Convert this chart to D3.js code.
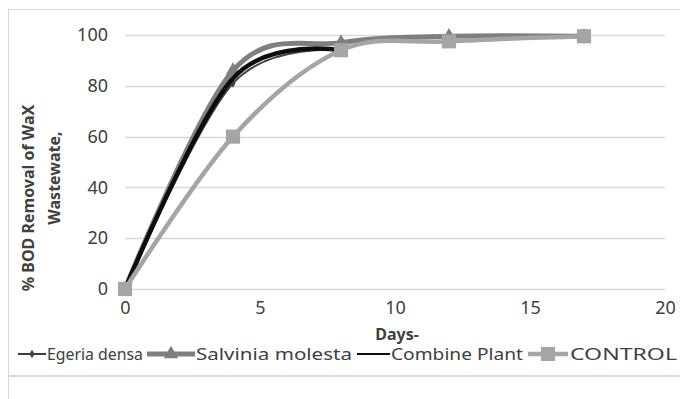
<!DOCTYPE html>
<html>
<head>
<meta charset="utf-8">
<script src="https://cdn.jsdelivr.net/npm/d3@7"></script>
<style>
  body { margin: 0; background: #fff; }
  svg { display: block; }
  text { font-family: "Noto Sans", "Open Sans", sans-serif; fill: #404040; }
</style>
</head>
<body>
<script>
// chart values
const days        = [0, 4, 8, 12, 17];
const egeria      = [0, 81, 94];
const salvinia    = [0, 86, 97, 99.5, 99.5];
const combine     = [0, 83, 94];
const control     = [0, 60, 94, 97.5, 99.5];
const xTicks      = [0, 5, 10, 15, 20];
const yTicks      = [0, 20, 40, 60, 80, 100];
const seriesNames = ["Egeria densa", "Salvinia molesta", "Combine Plant", "CONTROL"];

const width = 680, height = 399;
const margin = { top: 35, right: 15, bottom: 110, left: 125 };

let svg = d3.select("body")
            .append("svg")
              .attr("width", width)
              .attr("height", height);

// chart frame (and the top of the next one below)
svg.append("rect")
    .attr("x", 8.5).attr("y", 9.5)
    .attr("width", width + 10).attr("height", 366)
    .attr("fill", "none").attr("stroke", "#d9d9d9");
svg.append("rect")
    .attr("x", 8.5).attr("y", 376.5)
    .attr("width", width + 10).attr("height", 40)
    .attr("fill", "none").attr("stroke", "#d9d9d9");

let xScale = d3.scaleLinear()
                .domain([0, 20])
                .range([margin.left, width - margin.right]);   // 125 .. 665

let yScale = d3.scaleLinear()
                .domain([0, 100])
                .range([289, margin.top]);

// gridlines
svg.append("g")
    .selectAll("line")
    .data(yTicks)
    .enter()
    .append("line")
      .attr("x1", xScale(0)).attr("x2", xScale(20))
      .attr("y1", d => Math.round(yScale(d)) + 0.5)
      .attr("y2", d => Math.round(yScale(d)) + 0.5)
      .attr("stroke", "#d9d9d9")
      .attr("stroke-width", 1.5);

// axes, drawn with d3 but without domain / tick lines
let xAxis = svg.append("g")
    .attr("transform", `translate(0,${yScale(0)})`)
    .call(d3.axisBottom(xScale).tickValues(xTicks).tickSize(0).tickPadding(12));
let yAxis = svg.append("g")
    .attr("transform", `translate(${xScale(0)},0)`)
    .call(d3.axisLeft(yScale).tickValues(yTicks).tickSize(0).tickPadding(17));
[xAxis, yAxis].forEach(a => {
  a.select(".domain").remove();
  a.selectAll("text")
    .attr("font-size", "18px")
    .attr("fill", "#404040")
    .style("font-family", '"Noto Sans", sans-serif');
});

// axis titles
svg.append("text")
    .attr("x", 397).attr("y", 340)
    .attr("text-anchor", "middle")
    .attr("font-size", "16px")
    .attr("font-weight", "bold")
    .text("Days-");

svg.append("text")
    .attr("transform", "translate(34,198) rotate(-90)")
    .attr("text-anchor", "middle")
    .attr("font-size", "16px")
    .attr("font-weight", "bold")
    .text("% BOD Removal of WaX");
svg.append("text")
    .attr("transform", "translate(60,178) rotate(-90)")
    .attr("text-anchor", "middle")
    .attr("font-size", "16px")
    .attr("font-weight", "bold")
    .text("Wastewate,");

// series styling
const styles = [
  { color: "#404040", width: 2,   marker: d3.symbolDiamond,  size: 22 },
  { color: "#7f7f7f", width: 5,   marker: d3.symbolTriangle, size: 90 },
  { color: "#0d0d0d", width: 4.5, marker: null,              size: 0 },
  { color: "#a5a5a5", width: 4.5, marker: d3.symbolSquare,   size: 200 }
];
const allSeries = [egeria, salvinia, combine, control];

let line = d3.line()
    .x(d => xScale(d[0]))
    .y(d => yScale(d[1]))
    .curve(d3.curveCardinal.tension(0));

allSeries.forEach((vals, i) => {
  let pts = vals.map((v, j) => [days[j], v]);
  let st = styles[i];
  svg.append("path")
      .datum(pts)
      .attr("d", line)
      .attr("fill", "none")
      .attr("stroke", st.color)
      .attr("stroke-width", st.width)
      .attr("stroke-linejoin", "round");
  if (st.marker) {
    svg.append("g")
      .selectAll("path")
      .data(pts)
      .enter()
      .append("path")
        .attr("transform", d => `translate(${xScale(d[0])},${yScale(d[1])})`)
        .attr("d", d3.symbol().type(st.marker).size(st.size))
        .attr("fill", st.color);
  }
});

// legend: key start/end, text start and width
const legendKey  = [[18, 46], [147, 195], [357, 390], [528, 568]];
const legendText = [[47, 96], [196, 156], [391, 132], [570, 107]];
let legend = svg.append("g").attr("transform", "translate(0,354)");
seriesNames.forEach((name, i) => {
  let st = styles[i];
  let [k0, k1] = legendKey[i];
  legend.append("line")
    .attr("x1", k0).attr("x2", k1)
    .attr("stroke", st.color)
    .attr("stroke-width", i === 2 ? 2 : st.width);
  if (st.marker) {
    legend.append("path")
      .attr("transform", `translate(${(k0 + k1) / 2},0)`)
      .attr("d", d3.symbol().type(st.marker).size(st.size))
      .attr("fill", st.color);
  }
  legend.append("text")
    .attr("x", legendText[i][0])
    .attr("y", 6)
    .attr("font-size", "16px")
    .attr("textLength", legendText[i][1])
    .attr("lengthAdjust", "spacingAndGlyphs")
    .text(name);
});
</script>
</body>
</html>
